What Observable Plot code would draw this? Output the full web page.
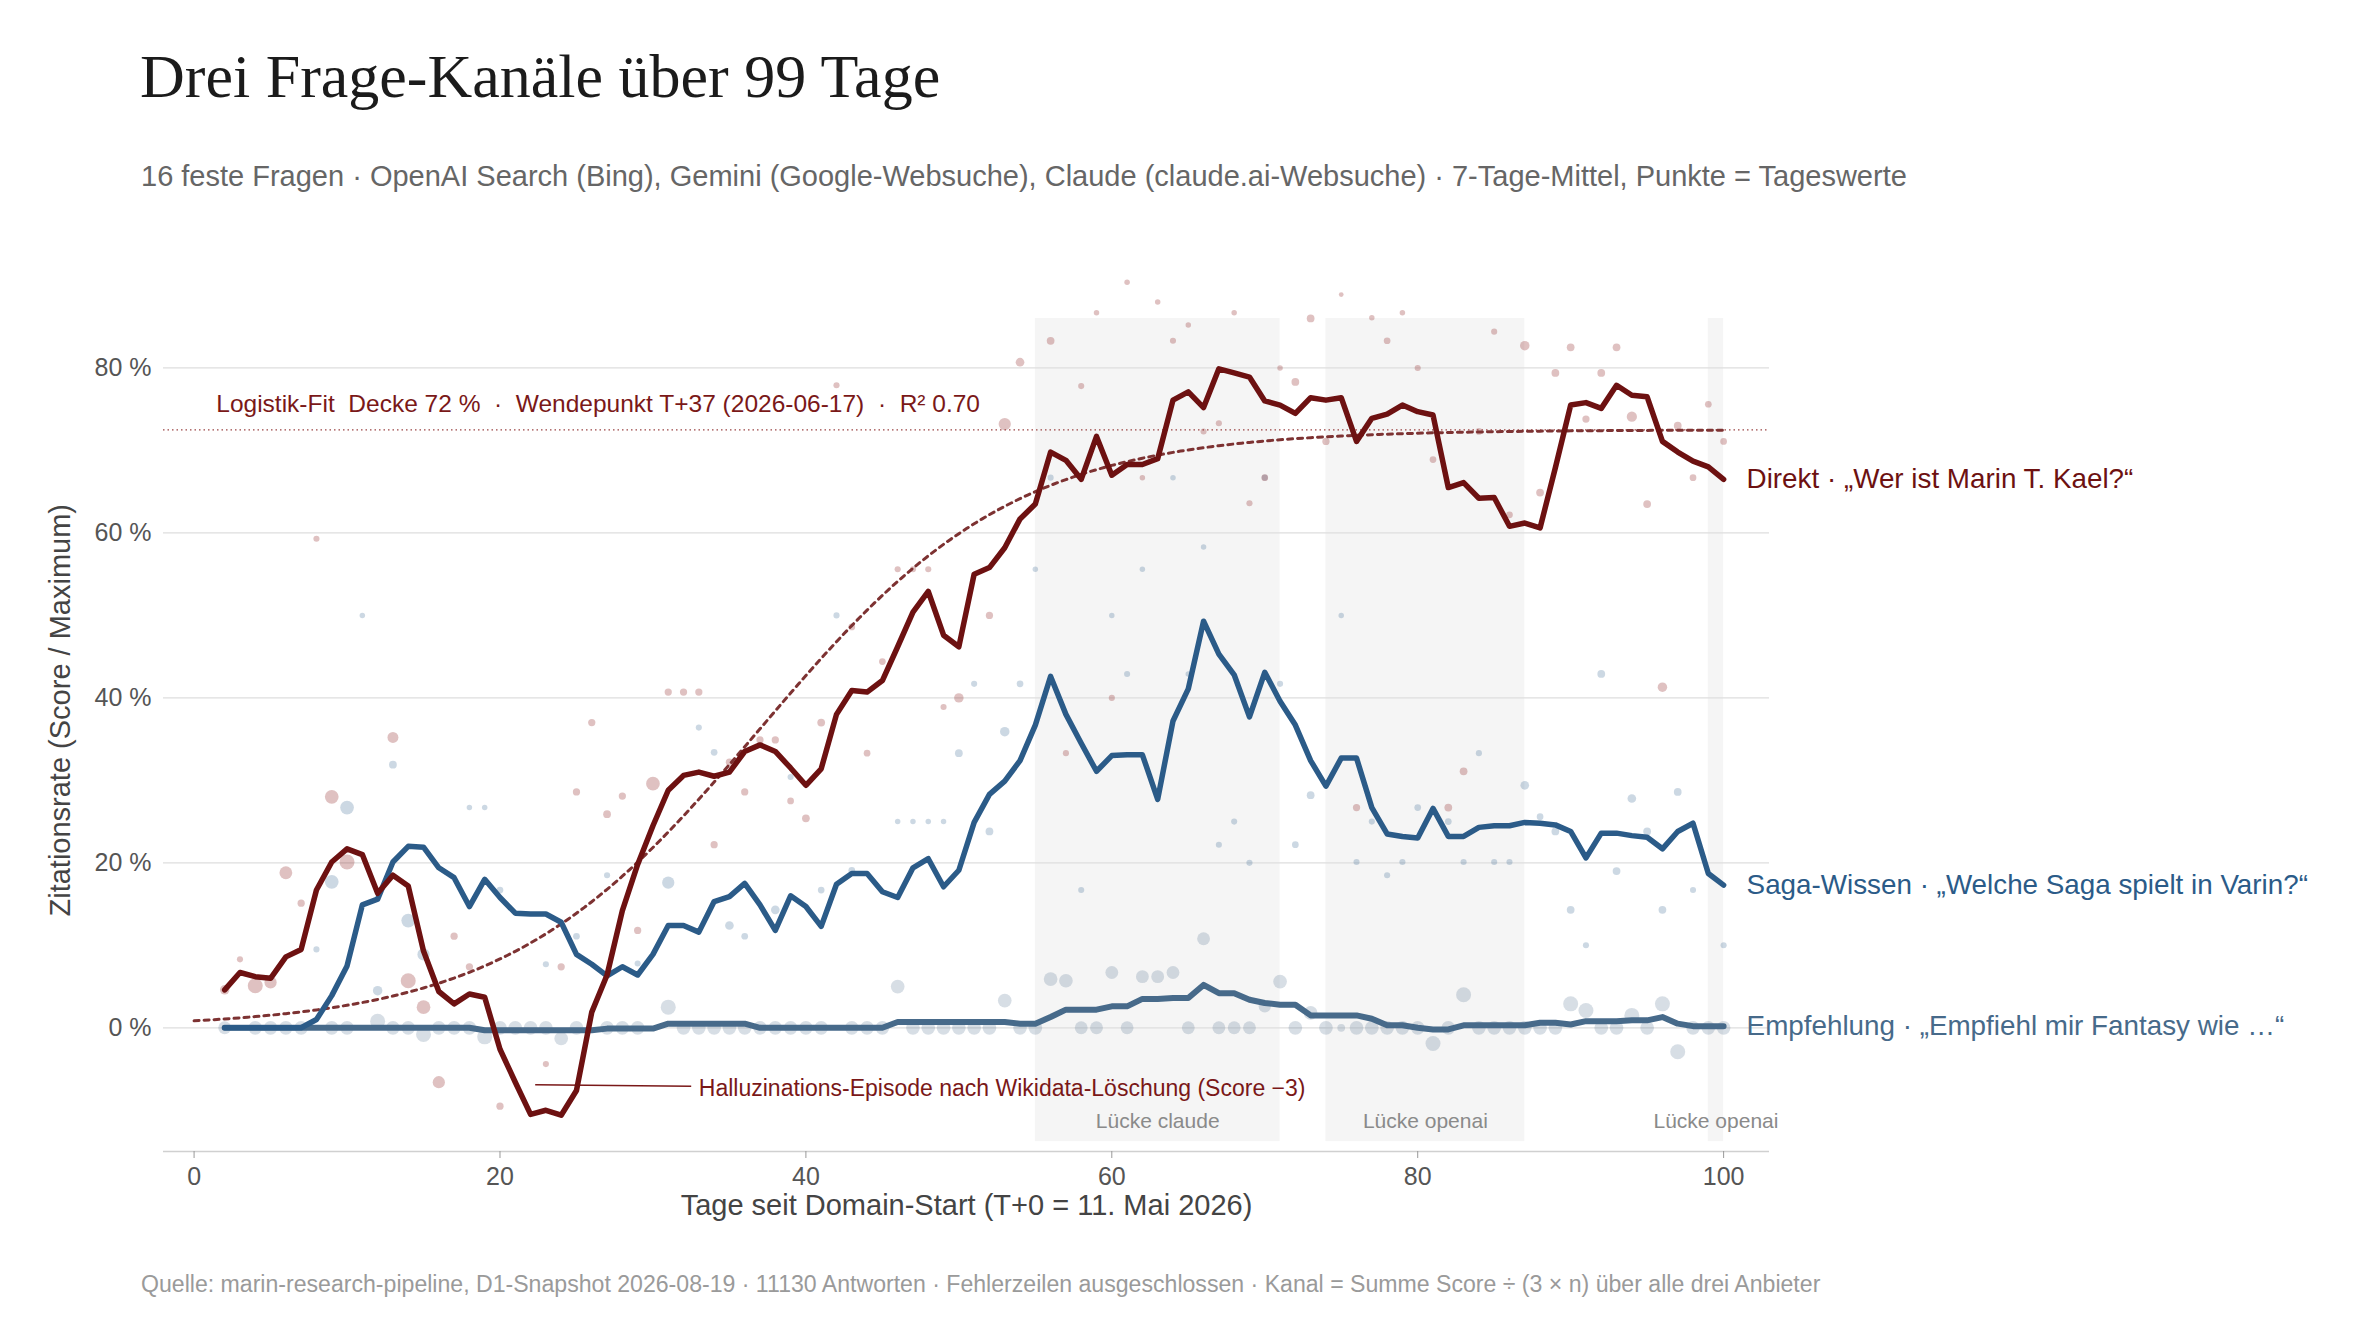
<!DOCTYPE html>
<html>
<head>
<meta charset="utf-8">
<script src="https://cdn.jsdelivr.net/npm/d3@7"></script>
<script src="https://cdn.jsdelivr.net/npm/@observablehq/plot@0.6"></script>
<style>
  html, body { margin: 0; padding: 0; background: #fff; }
  body { width: 2356px; height: 1340px; position: relative; overflow: hidden; font-family: "Liberation Sans", Arial, sans-serif; }
  #title { position: absolute; left: 140px; top: 45px; font-family: "Liberation Serif", "DejaVu Serif", serif; font-size: 62px; line-height: 1; color: #1b1b1b; white-space: nowrap; }
  #subtitle { position: absolute; left: 141px; top: 162px; font-size: 29px; line-height: 1; color: #666; white-space: nowrap; }
  #chart { position: absolute; left: 0; top: 230px; }
  #caption { position: absolute; left: 141px; top: 1273px; font-size: 23.1px; line-height: 1; color: #9a9a9a; white-space: nowrap; }
</style>
</head>
<body>
<div id="title">Drei Frage-Kanäle über 99 Tage</div>
<div id="subtitle">16 feste Fragen · OpenAI Search (Bing), Gemini (Google-Websuche), Claude (claude.ai-Websuche) · 7-Tage-Mittel, Punkte = Tageswerte</div>
<div id="chart"></div>
<div id="caption">Quelle: marin-research-pipeline, D1-Snapshot 2026-08-19 · 11130 Antworten · Fehlerzeilen ausgeschlossen · Kanal = Summe Score ÷ (3 × n) über alle drei Anbieter</div>
<script>
// ---- Data (percent of maximum score) ----
const days = d3.range(2, 101); // T+2 ... T+100

// 7-day means
const direkt = [4.6,6.7,6.2,6.0,8.6,9.5,16.7,20.1,21.7,21.0,16.3,18.5,17.2,9.3,4.4,2.9,4.1,3.7,-2.6,-6.6,
  -10.5,-10.0,-10.6,-7.6,1.9,6.4,14.2,19.8,24.5,28.8,30.6,31.0,30.5,31.0,33.5,34.3,33.5,31.5,29.4,31.4,
  38.0,40.9,40.7,42.1,46.2,50.4,52.9,47.6,46.2,55.0,55.8,58.2,61.7,63.5,69.8,68.8,66.5,71.7,67.0,68.3,
  68.3,69.0,76.1,77.1,75.2,79.9,79.4,78.9,76.0,75.5,74.5,76.4,76.1,76.4,71.1,73.9,74.4,75.5,74.7,74.3,
  65.5,66.1,64.2,64.3,60.8,61.2,60.6,67.9,75.5,75.8,75.1,77.9,76.7,76.5,71.1,69.8,68.7,68.0,66.5];

const saga = [0,0,0,0,0,0,1.0,3.9,7.5,14.9,15.6,20.1,22.0,21.9,19.4,18.2,14.7,18.0,15.8,13.9,
  13.8,13.8,12.8,8.9,7.7,6.3,7.4,6.4,8.9,12.4,12.4,11.6,15.3,15.9,17.5,14.9,11.8,16.0,14.7,12.3,
  17.4,18.7,18.7,16.5,15.8,19.4,20.5,17.1,19.1,24.9,28.3,29.9,32.4,36.7,42.6,38.0,34.5,31.1,33.0,33.1,
  33.1,27.7,37.2,41.1,49.3,45.3,42.8,37.7,43.1,39.6,36.7,32.4,29.3,32.7,32.7,26.7,23.5,23.2,23.0,26.6,
  23.2,23.2,24.3,24.5,24.5,24.9,24.8,24.6,23.8,20.6,23.6,23.6,23.3,23.1,21.7,23.8,24.8,18.7,17.3];

const empfehlung = [0,0,0,0,0,0,0,0,0,0,0,0,0,0,0,0,0,-0.3,-0.3,-0.3,
  -0.3,-0.3,-0.3,-0.3,-0.3,-0.1,-0.1,-0.1,-0.1,0.5,0.5,0.5,0.5,0.5,0.5,0,0,0,0,0,
  0,0,0,0,0.7,0.7,0.7,0.7,0.7,0.7,0.7,0.7,0.5,0.5,1.3,2.2,2.2,2.2,2.6,2.6,
  3.5,3.5,3.6,3.6,5.2,4.2,4.2,3.4,3.0,2.8,2.8,1.5,1.5,1.5,1.5,1.1,0.3,0.3,0.0,-0.2,
  -0.2,0.3,0.3,0.3,0.3,0.3,0.6,0.6,0.4,0.8,0.8,0.8,0.9,0.9,1.3,0.5,0.2,0.2,0.2];

// Daily values: [day, percent, answers n] (visible points)
const direktDaily = [[2,4.6,12],[3,8.3,5],[4,5.1,30],[5,5.5,20],[6,18.8,22],[7,15.1,7],[8,59.3,5],[9,28.0,25],[10,20.1,30],
  [13,35.2,16],[14,5.7,30],[15,2.5,25],[16,-6.6,20],[17,11.1,7],[18,7.4,7],[20,-9.5,7],[23,-4.4,5],[24,7.4,7],[25,28.6,7],
  [26,37.0,7],[27,25.9,8],[28,28.1,7],[29,11.8,7],[30,29.6,25],[31,40.7,7],[32,40.7,7],[33,40.7,7],[34,22.2,7],[35,32.2,7],
  [36,28.6,7],[37,34.9,7],[38,34.9,7],[39,27.5,6],[40,25.4,8],[41,37.0,8],[42,77.9,5],[43,48.6,6],[44,33.3,6],[45,44.4,6],
  [46,55.6,5],[47,55.6,5],[48,55.6,5],[49,38.9,5],[50,40.0,12],[52,50.0,7],[53,73.2,20],[54,80.7,10],[56,83.3,8],[57,33.3,5],
  [58,77.8,5],[59,86.7,4],[60,40.0,5],[61,90.4,4],[62,66.7,4],[63,88.0,4],[64,83.3,5],[65,85.2,4],[66,72.3,5],[67,73.3,5],
  [68,86.7,4],[69,63.6,5],[70,66.7,6],[71,80.0,4],[72,78.3,8],[73,86.0,8],[74,71.1,7],[75,88.9,3],[76,26.7,7],[77,86.1,4],
  [78,83.3,6],[79,86.7,4],[80,80.0,5],[81,68.9,6],[82,26.7,8],[83,31.1,8],[84,72.3,6],[85,84.4,5],[86,62.2,6],[87,82.7,12],
  [88,64.9,8],[89,79.4,8],[90,82.5,8],[91,73.8,7],[92,79.4,8],[93,82.5,8],[94,74.1,14],[95,63.5,8],[96,41.3,12],[97,73.0,8],
  [98,66.7,6],[99,75.6,6],[100,71.1,6]];

const sagaDaily = [[8,9.5,5],[9,17.7,25],[10,26.7,25],[11,50.0,4],[12,4.5,12],[13,31.9,8],[14,13.0,25],[15,8.9,20],[18,26.7,4],
  [19,26.7,4],[20,16.7,6],[23,7.7,5],[25,11.1,6],[27,18.5,5],[29,7.8,5],[31,17.6,20],[33,36.4,5],[34,33.4,6],[35,12.4,10],
  [36,11.1,6],[38,14.3,10],[39,30.4,5],[41,16.7,6],[42,50.0,5],[43,19.1,6],[46,25.0,4],[47,25.0,4],[48,25.0,4],[49,25.0,4],
  [50,33.3,8],[51,41.7,5],[52,23.8,8],[53,35.9,12],[54,41.7,6],[55,55.6,4],[56,66.7,5],[58,16.7,5],[60,50.0,4],[61,42.9,5],
  [62,55.6,4],[64,66.7,4],[65,42.9,4],[66,58.3,4],[67,22.2,5],[68,25.0,5],[69,20.0,5],[70,66.7,5],[71,41.7,5],[72,22.2,6],
  [73,28.2,8],[75,50.0,4],[76,20.1,5],[77,25.0,5],[78,18.5,5],[79,20.1,5],[80,26.7,6],[82,25.0,6],[83,20.1,5],[84,33.3,5],
  [85,20.1,5],[86,20.1,5],[87,29.4,10],[88,25.6,6],[89,23.8,8],[90,14.3,8],[91,10.0,5],[92,42.9,8],[93,19.0,8],[94,27.8,10],
  [95,23.8,8],[96,14.3,8],[97,28.6,8],[98,16.7,5],[100,10.0,5]];

const empfehlungDaily = [[2,0,22],[4,0,25],[5,0,25],[6,0,25],[7,0,25],[9,0,25],[10,0,25],[12,0.8,30],[13,0,25],[14,0,25],
  [15,-0.8,30],[16,0,25],[17,0,25],[18,0,25],[19,-1.1,30],[20,0,25],[21,0,25],[22,0,25],[23,0,25],[24,-1.3,25],[25,0,25],
  [27,0,25],[28,0,25],[29,0,25],[31,2.5,30],[32,0,25],[33,0,25],[34,0,25],[35,0,25],[36,0,25],[37,0,25],[38,0,25],[39,0,25],
  [40,0,25],[41,0,25],[43,0,25],[44,0,25],[45,0,25],[46,5.0,25],[47,0,25],[48,0,25],[49,0,25],[50,0,25],[51,0,25],[52,0,25],
  [53,3.3,25],[54,0,25],[55,0,25],[56,5.9,25],[57,5.7,25],[58,0,22],[59,0,22],[60,6.7,22],[61,0,22],[62,6.2,22],[63,6.2,22],
  [64,6.7,22],[65,0,22],[66,10.8,22],[67,0,22],[68,0,22],[69,0,22],[70,2.6,20],[71,5.6,25],[72,0,25],[73,1.8,25],[74,0,25],
  [75,0,8],[76,0,25],[77,0,25],[78,0,25],[79,0,25],[80,0,25],[81,-1.9,30],[82,0,25],[83,4.0,30],[84,0,25],[85,0,25],[86,0,25],
  [87,0,25],[88,0,25],[89,0,25],[90,2.9,30],[91,2.1,30],[92,0,25],[93,0,25],[94,1.5,30],[95,0,25],[96,2.9,30],[97,-2.9,30],
  [98,0,25],[99,0,25],[100,0,25]];

// Provider gaps (days)
const gapStart = [55, 74, 99];
const gapEnd = [71, 87, 100];
const gapProvider = ["claude", "openai", "openai"];

// Logistic fit parameters
const fitCeiling = 72.5, fitMidpoint = 37, fitRate = 0.12;

// Labels
const seriesNames = ["Direkt · „Wer ist Marin T. Kael?“", "Saga-Wissen · „Welche Saga spielt in Varin?“", "Empfehlung · „Empfiehl mir Fantasy wie …“"];
const fitLabel = "Logistik-Fit\u00a0\u00a0Decke 72 %\u00a0\u00a0·\u00a0\u00a0Wendepunkt T+37 (2026-06-17)\u00a0\u00a0·\u00a0\u00a0R² 0.70";
const hallucinationLabel = "Halluzinations-Episode nach Wikidata-Löschung (Score −3)";
const hallucinationSpan = [22.3, 32.5];
const hallucinationLevel = -7.0;
const xTicks = [0, 20, 40, 60, 80, 100];
const yTicks = [0, 20, 40, 60, 80];
const xLabel = "Tage seit Domain-Start (T+0 = 11. Mai 2026)";
const yLabel = "Zitationsrate (Score / Maximum)";

// ---- Build ----
const C = { direkt: "#6d1111", saga: "#2b5b88", empf: "#476a8a" };
const toRows = (vals) => days.map((d, i) => ({ day: d, v: vals[i] }));
const toPts = (arr) => arr.map(([day, v, n]) => ({ day, v, n }));
const gaps = gapStart.map((s, i) => ({ s, e: gapEnd[i], p: gapProvider[i] }));
const fitDays = d3.range(0, 100.25, 0.5);
const logistic = (t) => fitCeiling / (1 + Math.exp(-fitRate * (t - fitMidpoint)));
const lasts = [
  { v: direkt[direkt.length - 1], name: seriesNames[0], c: C.direkt },
  { v: saga[saga.length - 1], name: seriesNames[1], c: C.saga },
  { v: empfehlung[empfehlung.length - 1], name: seriesNames[2], c: C.empf }
];

const chart = Plot.plot({
  width: 2356,
  height: 1020,
  marginTop: 38.5,
  marginBottom: 99,
  marginLeft: 163,
  marginRight: 587,
  style: { fontFamily: "'Liberation Sans', Arial, sans-serif", background: "#fff", overflow: "visible" },
  x: { domain: [-2, 103] },
  y: { domain: [-15, 92] },
  r: { type: "sqrt", domain: [0, 30], range: [0, 7.5] },
  marks: [
    Plot.rect(gaps, { x1: "s", x2: "e", y1: -13.8, y2: 86, fill: "#f5f5f5" }),
    Plot.gridY(yTicks, { stroke: "#dedede", strokeOpacity: 1, strokeWidth: 1.3 }),
    Plot.ruleY([-15], { stroke: "#d0d0d0", strokeWidth: 1.3 }),
    Plot.axisX({ ticks: xTicks, tickSize: 7, tickPadding: 9, fontSize: 25, color: "#555", stroke: "#999", label: null }),
    Plot.axisY({ ticks: yTicks, tickSize: 0, tickPadding: 12, fontSize: 25, color: "#555", tickFormat: (d) => `${d} %`, label: null }),
    Plot.text([xLabel], { frameAnchor: "bottom", dy: 63, fontSize: 29, fill: "#444" }),
    Plot.text([yLabel], { frameAnchor: "left", textAnchor: "middle", dx: -103, rotate: -90, fontSize: 29, fill: "#444" }),
    Plot.text(gaps, { x: (d) => (d.s + d.e) / 2, y: -11.3, text: (d) => "Lücke " + d.p, fontSize: 21, fill: "#8a8a8a" }),
    // daily points
    Plot.dot(toPts(empfehlungDaily), { x: "day", y: "v", r: "n", fill: C.empf, fillOpacity: 0.22 }),
    Plot.dot(toPts(sagaDaily), { x: "day", y: "v", r: "n", fill: C.saga, fillOpacity: 0.24 }),
    Plot.dot(toPts(direktDaily), { x: "day", y: "v", r: "n", fill: "#8b2020", fillOpacity: 0.28 }),
    // fit
    Plot.ruleY([fitCeiling], { stroke: "#9a4444", strokeWidth: 1.2, strokeDasharray: "1.5,3" }),
    Plot.line(fitDays, { x: (d) => d, y: logistic, stroke: "#7d3232", strokeWidth: 3, strokeDasharray: "5,5" }),
    Plot.text([fitLabel], { x: 1.45, y: 75.6, textAnchor: "start", fontSize: 24.5, fill: "#7a1818" }),
    // hallucination annotation
    Plot.link([hallucinationSpan], { x1: (d) => d[0], x2: (d) => d[1], y1: hallucinationLevel + 0.1, y2: hallucinationLevel - 0.1, stroke: "#7a1818", strokeWidth: 1.5 }),
    Plot.text([hallucinationLabel], { x: hallucinationSpan[1] + 0.5, y: hallucinationLevel - 0.4, textAnchor: "start", fontSize: 23, fill: "#7a1818" }),
    // smoothed lines
    Plot.line(toRows(empfehlung), { x: "day", y: "v", stroke: C.empf, strokeWidth: 6, strokeLinejoin: "round" }),
    Plot.line(toRows(saga), { x: "day", y: "v", stroke: C.saga, strokeWidth: 5.5, strokeLinejoin: "round" }),
    Plot.line(toRows(direkt), { x: "day", y: "v", stroke: C.direkt, strokeWidth: 5.5, strokeLinejoin: "round" }),
    // end labels
    Plot.text(lasts, { x: 100, y: "v", text: "name", fill: "c", dx: 23, textAnchor: "start", fontSize: 27.8 })
  ]
});
document.getElementById("chart").appendChild(chart);
</script>
</body>
</html>
